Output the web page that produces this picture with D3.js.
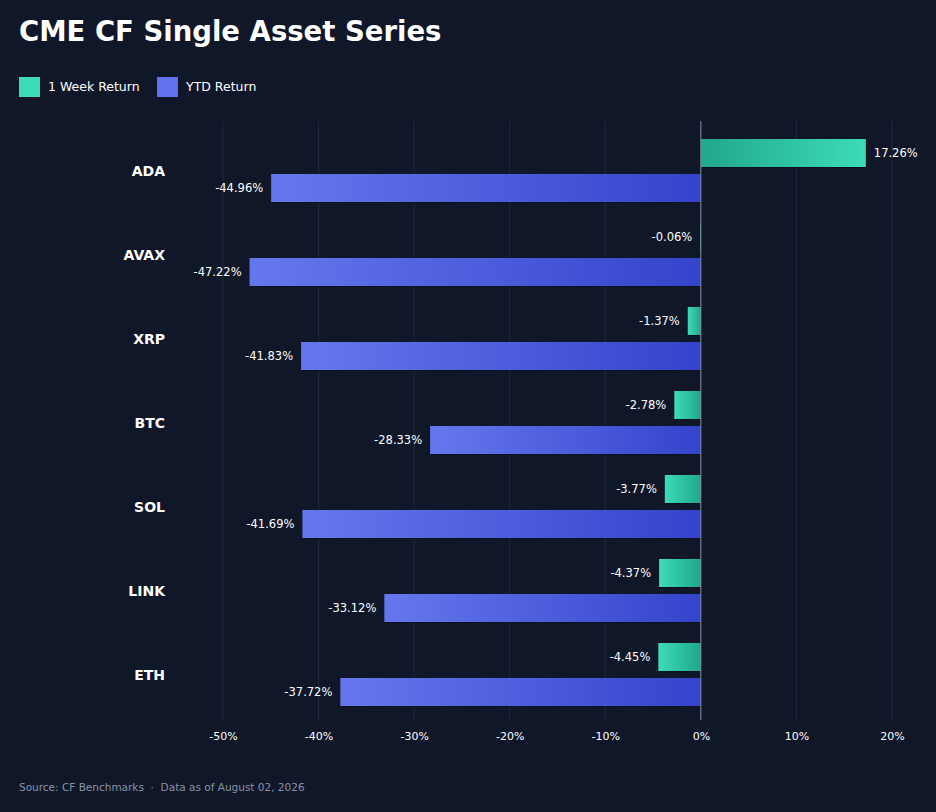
<!DOCTYPE html>
<html><head><meta charset="utf-8">
<script src="https://cdn.jsdelivr.net/npm/d3@7"></script>
<style>body{margin:0;background:#0f1729;font-family:"DejaVu Sans",sans-serif}</style>
</head><body><svg id="c" width="936" height="812"></svg>
<script>
const categories=["ADA","AVAX","XRP","BTC","SOL","LINK","ETH"];
const weekReturn=[17.26,-0.06,-1.37,-2.78,-3.77,-4.37,-4.45];
const ytdReturn=[-44.96,-47.22,-41.83,-28.33,-41.69,-33.12,-37.72];
const xTicks=[-50,-40,-30,-20,-10,0,10,20];
const svg=d3.select("#c");
svg.append("rect").attr("width",936).attr("height",812).attr("fill","#0f1729");
const x=d3.scaleLinear().domain([-50,20]).range([223,892]);
const y=d3.scaleBand().domain(categories).range([129,717]);
const defs=svg.append("defs");
function grad(id,c0,c1){const g=defs.append("linearGradient").attr("id",id).attr("x1","0").attr("x2","1");
g.append("stop").attr("offset","0").attr("stop-color",c0);g.append("stop").attr("offset","1").attr("stop-color",c1);}
grad("wpos","#20a88a","#3ddbb6");grad("wneg","#3ddbb6","#20a88a");
grad("yneg","#6677ee","#3444cc");
svg.append("text").attr("x",19).attr("y",41).attr("fill","#fff").attr("font-size",27.5).attr("font-weight","bold").text("CME CF Single Asset Series");
[["1 Week Return","#3ddbb6",19],["YTD Return","#6172ee",157]].forEach(([t,c,lx])=>{
svg.append("rect").attr("x",lx).attr("y",77).attr("width",21).attr("height",20).attr("fill",c);
svg.append("text").attr("x",lx+29).attr("y",91).attr("fill","#fff").attr("font-size",12.5).text(t);});
const g=svg.append("g");
g.selectAll(".grid").data(xTicks.filter(d=>d!==0)).join("line").attr("x1",d=>x(d)).attr("x2",d=>x(d)).attr("y1",121).attr("y2",720).attr("stroke","#1e2a40").attr("stroke-width",1);
const ax=g.append("g").attr("transform","translate(0,720)").call(d3.axisBottom(x).tickValues(xTicks).tickFormat(d=>d+"%").tickSize(0).tickPadding(12));
ax.select(".domain").remove();
ax.selectAll("text").attr("fill","#fff").attr("font-size",11).attr("font-family","DejaVu Sans");
function bars(vals,off,posG,negG){
categories.forEach((c,i)=>{const v=vals[i];const y0=y(c)+off;const x0=Math.min(x(0),x(v)),w=Math.abs(x(v)-x(0));
g.append("rect").attr("x",x0+1).attr("y",y0+1).attr("width",w).attr("height",28).attr("fill","#000").attr("opacity",0.3);
g.append("rect").attr("x",x0).attr("y",y0).attr("width",w).attr("height",28).attr("fill",`url(#${v>=0?posG:negG})`);
g.append("text").attr("x",v>=0?x(v)+8:x(v)-8).attr("y",y0+18).attr("text-anchor",v>=0?"start":"end").attr("fill","#fff").attr("font-size",11.5).text(v.toFixed(2)+"%");});}
bars(weekReturn,10,"wpos","wneg");
bars(ytdReturn,45,"yneg","yneg");
g.append("line").attr("x1",x(0)).attr("x2",x(0)).attr("y1",121).attr("y2",720).attr("stroke","#8a93a6").attr("stroke-width",1);
categories.forEach(c=>g.append("text").attr("x",165).attr("y",y(c)+y.bandwidth()/2+5).attr("text-anchor","end").attr("fill","#fff").attr("font-size",14).attr("font-weight","bold").text(c));
svg.append("text").attr("x",19).attr("y",791).attr("fill","#8a93a6").attr("font-size",10.5).attr("xml:space","preserve").style("white-space","pre").text("Source: CF Benchmarks  ·  Data as of August 02, 2026");
</script></body></html>
